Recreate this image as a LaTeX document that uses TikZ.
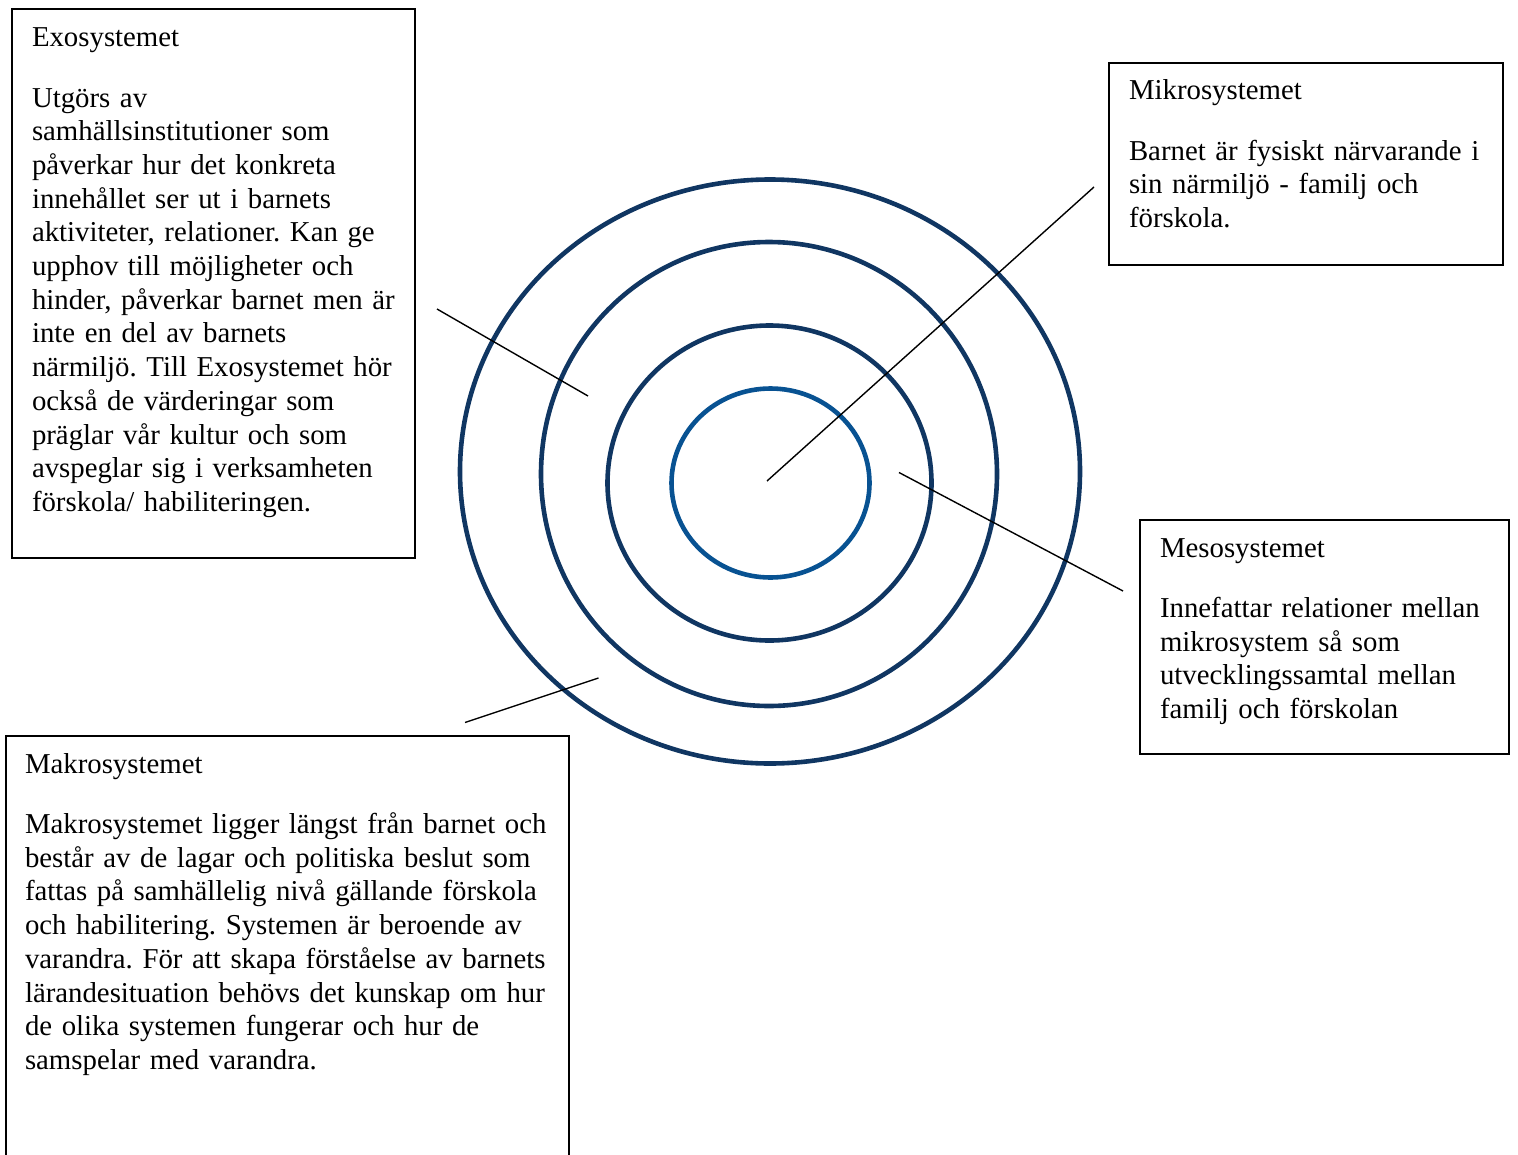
\documentclass[tikz,border=0pt]{standalone}
\usepackage{fontspec}
\setmainfont{Liberation Serif}
\definecolor{ringdark}{RGB}{16,54,98}
\definecolor{ringlight}{RGB}{8,82,146}
\tikzset{
  ring/.style={draw=ringdark, line width=4.6pt},
  ringin/.style={draw=ringlight, line width=4.6pt},
  box/.style={draw=black, line width=1.2pt},
  leader/.style={draw=black, line width=1.4pt},
  txt/.style={anchor=base west, inner sep=0pt, outer sep=0pt, align=left,
    text width=560pt, font=\fontsize{28.8}{33.7}\selectfont\frenchspacing},
}
\begin{document}
\begin{tikzpicture}[x=1pt,y=-1pt]
\useasboundingbox (0,0) rectangle (1518,1154);
% rings
\draw[ring] (770,471.5) ellipse [x radius=310, y radius=292];
\draw[ring] (769,474) ellipse [x radius=228, y radius=232];
\draw[ring] (769.5,483) ellipse [x radius=162, y radius=157.5];
\draw[ringin] (770.5,483) ellipse [x radius=99, y radius=94.5];
% boxes
\draw[box] (12,9) rectangle (415,558);
\draw[box] (1109,63) rectangle (1503,265);
\draw[box] (1140,520) rectangle (1509,754);
\draw[box] (6,1160) -- (6,736) -- (569,736) -- (569,1160);
% leader end points
\coordinate (exoA) at (437,309);
\coordinate (exoB) at (588,396);
\coordinate (mikA) at (767,481);
\coordinate (mikB) at (1094,187);
\coordinate (mesA) at (899,472.5);
\coordinate (mesB) at (1123,591);
\coordinate (makA) at (465,722.5);
\coordinate (makB) at (598.5,678);
\draw[leader] (exoA) -- (exoB);
\draw[leader] (mikA) -- (mikB);
\draw[leader] (mesA) -- (mesB);
\draw[leader] (makA) -- (makB);
% texts
\node[txt] (exoT) at (32,46) {Exosystemet};
\node[txt] (exoB1) at (32,107) {Utgörs av\\
samhällsinstitutioner som\\
påverkar hur det konkreta\\
innehållet ser ut i barnets\\
aktiviteter, relationer. Kan ge\\
upphov till möjligheter och\\
hinder, påverkar barnet men är\\
inte en del av barnets\\
närmiljö. Till Exosystemet hör\\
också de värderingar som\\
präglar vår kultur och som\\
avspeglar sig i verksamheten\\
förskola/ habiliteringen.};
\node[txt] (mikT) at (1129,99.5) {Mikrosystemet};
\node[txt] (mikB1) at (1129,160) {Barnet är fysiskt närvarande i\\
sin närmiljö - familj och\\
förskola.};
\node[txt] (mesT) at (1160,557) {Mesosystemet};
\node[txt] (mesB1) at (1160,617.5) {Innefattar relationer mellan\\
mikrosystem så som\\
utvecklingssamtal mellan\\
familj och förskolan};
\node[txt] (makT) at (25,773) {Makrosystemet};
\node[txt] (makB1) at (25,833.5) {Makrosystemet ligger längst från barnet och\\
består av de lagar och politiska beslut som\\
fattas på samhällelig nivå gällande förskola\\
och habilitering. Systemen är beroende av\\
varandra. För att skapa förståelse av barnets\\
lärandesituation behövs det kunskap om hur\\
de olika systemen fungerar och hur de\\
samspelar med varandra.};
\end{tikzpicture}
\end{document}
